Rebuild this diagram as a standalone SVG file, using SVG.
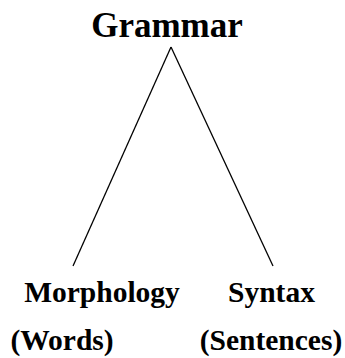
<svg xmlns="http://www.w3.org/2000/svg" width="345" height="358" viewBox="0 0 345 358">
<style>
.t{font-family:"Liberation Serif","Times New Roman",serif;font-weight:bold;fill:#000;text-anchor:middle}
.s{font-size:29.5px}
.c{stroke:#000;stroke-width:1.3;fill:none}
</style>
<rect width="345" height="358" fill="#fff"/>
<g id="connectors">
<line class="c" x1="171" y1="47" x2="73" y2="266"/>
<line class="c" x1="171" y1="47" x2="273" y2="266"/>
</g>
<g id="grammar"><text class="t" x="167" y="37" font-size="35">Grammar</text></g>
<g id="morphology"><text class="t s" x="102" y="301.5">Morphology</text></g>
<g id="syntax"><text class="t s" x="271.5" y="301.5">Syntax</text></g>
<g id="words"><text class="t s" x="62" y="350">(Words)</text></g>
<g id="sentences"><text class="t s" x="271" y="350">(Sentences)</text></g>
</svg>
